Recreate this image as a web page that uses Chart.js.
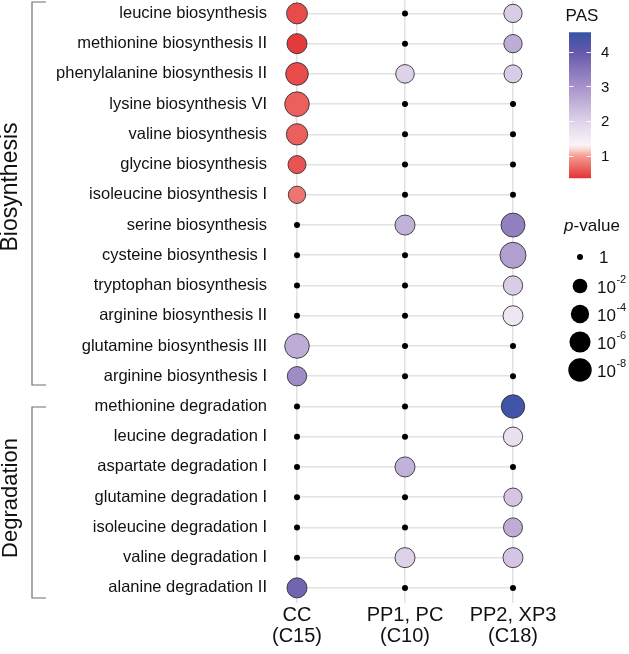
<!DOCTYPE html>
<html>
<head>
<meta charset="utf-8">
<script src="https://cdn.jsdelivr.net/npm/chart.js@4.4.1/dist/chart.umd.min.js"></script>
<style>
  html, body { margin: 0; padding: 0; background: #ffffff; }
  #wrap { width: 629px; height: 654px; position: relative; }
</style>
</head>
<body>
<div id="wrap"><canvas id="c" width="629" height="654"></canvas></div>
<script>
// ---------- DATA ----------
const pathways = [
  'leucine biosynthesis', 'methionine biosynthesis II', 'phenylalanine biosynthesis II',
  'lysine biosynthesis VI', 'valine biosynthesis', 'glycine biosynthesis',
  'isoleucine biosynthesis I', 'serine biosynthesis', 'cysteine biosynthesis I',
  'tryptophan biosynthesis', 'arginine biosynthesis II', 'glutamine biosynthesis III',
  'arginine biosynthesis I', 'methionine degradation', 'leucine degradation I',
  'aspartate degradation I', 'glutamine degradation I', 'isoleucine degradation I',
  'valine degradation I', 'alanine degradation II'
];
const clusterLabels = [['CC', '(C15)'], ['PP1, PC', '(C10)'], ['PP2, XP3', '(C18)']];

// PAS per pathway (null = not significant, drawn as black dot)
const pasCC  = [0.5, 0.4, 0.5, 0.62, 0.62, 0.55, 0.75, null, null, null, null, 2.6, 3.1, null, null, null, null, null, null, 3.8];
const pasPP1 = [null, null, 2.0, null, null, null, null, 2.5, null, null, null, null, null, null, null, 2.5, null, null, 2.0, null];
const pasPP2 = [2.1, 2.6, 2.1, null, null, null, null, 3.3, 2.8, 2.1, 1.6, null, null, 4.4, 1.7, null, 2.2, 2.6, 2.2, null];

// -log10(p-value) per pathway
const logpCC  = [5.9, 5.2, 7.3, 9.1, 6.2, 3.8, 3.4, 0, 0, 0, 0, 9.1, 4.7, 0, 0, 0, 0, 0, 0, 5.2];
const logpPP1 = [0, 0, 4.2, 0, 0, 0, 0, 5.2, 0, 0, 0, 0, 0, 0, 0, 5.2, 0, 0, 5.2, 0];
const logpPP2 = [4.0, 4.0, 3.8, 0, 0, 0, 0, 8.5, 10.5, 4.7, 5.2, 0, 0, 8.0, 4.7, 0, 4.0, 4.5, 5.2, 0];

const pasTicks = [1, 2, 3, 4];
const pLegendExps = [0, 2, 4, 6, 8];
const groups = [
  { name: 'Biosynthesis', first: 0, last: 12 },
  { name: 'Degradation', first: 13, last: 19 }
];

// ---------- MAPPINGS ----------
const FONT = "'Liberation Sans', Arial, Helvetica, sans-serif";
const pasRange = [0.35, 4.56];
const colorStops = [
  [0.35, [228, 50, 52]],
  [1.0,  [244, 158, 148]],
  [1.18, [250, 214, 210]],
  [1.3,  [250, 246, 250]],
  [2.0,  [222, 210, 233]],
  [3.0,  [166, 146, 201]],
  [4.0,  [100, 88, 170]],
  [4.56, [52, 82, 166]]
];
function pasColor(v) {
  if (v <= colorStops[0][0]) return 'rgb(' + colorStops[0][1].join(',') + ')';
  for (let i = 1; i < colorStops.length; i++) {
    if (v <= colorStops[i][0]) {
      const [a, ca] = colorStops[i - 1], [b, cb] = colorStops[i];
      const t = (v - a) / (b - a);
      const c = ca.map((x, k) => Math.round(x + (cb[k] - x) * t));
      return 'rgb(' + c.join(',') + ')';
    }
  }
  return 'rgb(' + colorStops[colorStops.length - 1][1].join(',') + ')';
}
function radius(logp) { return 3 + 3.08 * Math.sqrt(logp); }

const pasCols = [pasCC, pasPP1, pasPP2];
const logpCols = [logpCC, logpPP1, logpPP2];

const datasets = clusterLabels.map((lab, ci) => ({
  label: lab.join(' '),
  data: pathways.map((_, ri) => ({ x: ci, y: ri, r: radius(logpCols[ci][ri]) })),
  backgroundColor: pathways.map((_, ri) => pasCols[ci][ri] == null ? '#000000' : pasColor(pasCols[ci][ri])),
  borderColor: pathways.map((_, ri) => pasCols[ci][ri] == null ? '#000000' : '#333333'),
  borderWidth: pathways.map((_, ri) => pasCols[ci][ri] == null ? 0 : 0.9),
  clip: false
}));

// ---------- DECORATION PLUGIN ----------
const decor = {
  id: 'decor',
  afterDraw(chart) {
    const ctx = chart.ctx;
    ctx.save();
    // group brackets
    ctx.strokeStyle = '#6e6e6e';
    ctx.lineWidth = 1.2;
    const bx = 32, bx2 = 46;
    const spans = [[2, 385], [407, 598]];
    spans.forEach(([t, b]) => {
      ctx.beginPath();
      ctx.moveTo(bx2, t); ctx.lineTo(bx, t); ctx.lineTo(bx, b); ctx.lineTo(bx2, b);
      ctx.stroke();
    });
    // group labels
    ctx.fillStyle = '#111';
    ctx.textAlign = 'center';
    ctx.textBaseline = 'alphabetic';
    const gl = [[groups[0].name, 187, 23], [groups[1].name, 498, 22]];
    gl.forEach(([name, cy, fs]) => {
      ctx.save();
      ctx.translate(17, cy);
      ctx.rotate(-Math.PI / 2);
      ctx.font = fs + 'px ' + FONT;
      ctx.fillText(name, 0, 0);
      ctx.restore();
    });

    // PAS colour bar
    ctx.font = '17px ' + FONT;
    ctx.textAlign = 'center';
    ctx.textBaseline = 'middle';
    ctx.fillStyle = '#111';
    ctx.fillText('PAS', 582, 16);
    const cbx = 569, cbw = 22;
    const vy = v => 155.7 - (v - 1) * 34.67;
    const top = vy(pasRange[1]), bot = vy(pasRange[0]);
    const grad = ctx.createLinearGradient(0, bot, 0, top);
    const n = 60;
    for (let i = 0; i <= n; i++) {
      const v = pasRange[0] + (pasRange[1] - pasRange[0]) * i / n;
      grad.addColorStop(i / n, pasColor(v));
    }
    ctx.fillStyle = grad;
    ctx.fillRect(cbx, top, cbw, bot - top);
    ctx.strokeStyle = 'rgba(255,255,255,0.9)';
    ctx.lineWidth = 1;
    ctx.font = '15px ' + FONT;
    ctx.textAlign = 'left';
    pasTicks.forEach(t => {
      const ty = Math.round(vy(t)) + 0.5;
      ctx.beginPath();
      ctx.moveTo(cbx, ty); ctx.lineTo(cbx + 4.5, ty);
      ctx.moveTo(cbx + cbw - 4.5, ty); ctx.lineTo(cbx + cbw, ty);
      ctx.stroke();
      ctx.fillStyle = '#111';
      ctx.fillText(String(t), 601, vy(t) + 1);
    });

    // p-value size legend
    ctx.font = 'italic 17px ' + FONT;
    const wp = ctx.measureText('p').width;
    ctx.font = '17px ' + FONT;
    const wr = ctx.measureText('-value').width;
    const sx = 592 - (wp + wr) / 2;
    ctx.textAlign = 'left';
    ctx.fillStyle = '#111';
    ctx.font = 'italic 17px ' + FONT;
    ctx.fillText('p', sx, 226);
    ctx.font = '17px ' + FONT;
    ctx.fillText('-value', sx + wp, 226);
    const ly = [257, 286, 314, 342, 370];
    pLegendExps.forEach((e, i) => {
      ctx.beginPath();
      ctx.fillStyle = '#000';
      ctx.arc(580, ly[i], radius(e), 0, Math.PI * 2);
      ctx.fill();
      ctx.fillStyle = '#111';
      ctx.font = '17px ' + FONT;
      if (e === 0) {
        ctx.fillText('1', 599, ly[i] + 1);
      } else {
        ctx.fillText('10', 597, ly[i] + 2);
        const w10 = ctx.measureText('10').width;
        ctx.font = '11px ' + FONT;
        ctx.fillText('-' + e, 597 + w10 + 0.5, ly[i] - 6);
      }
    });
    ctx.restore();
  }
};

// ---------- CHART ----------
new Chart(document.getElementById('c'), {
  type: 'bubble',
  data: { datasets },
  options: {
    responsive: false,
    animation: false,
    events: [],
    layout: { autoPadding: false, padding: { left: 0, right: 116, top: 0, bottom: 0 } },
    plugins: { legend: { display: false }, tooltip: { enabled: false } },
    scales: {
      x: {
        type: 'linear',
        min: 0, max: 2,
        afterBuildTicks: s => { s.ticks = clusterLabels.map((_, i) => ({ value: i })); },
        afterFit: s => { s.height = 51; },
        ticks: {
          autoSkip: false,
          maxRotation: 0,
          padding: 2,
          color: '#111',
          font: { family: FONT, size: 20, lineHeight: 1.05 },
          callback: v => clusterLabels[v] || ''
        },
        grid: { color: '#e2e2e2', lineWidth: 1.6, drawTicks: false },
        border: { display: false }
      },
      y: {
        type: 'linear',
        reverse: true,
        min: -0.43, max: 19.5,
        afterBuildTicks: s => { s.ticks = pathways.map((_, i) => ({ value: i })); },
        afterFit: s => { s.width = 297; },
        ticks: {
          autoSkip: false,
          padding: 0,
          color: '#111',
          font: { family: FONT, size: 16.5, lineHeight: 0.05 },
          callback: v => pathways[v] || ''
        },
        grid: { color: '#e2e2e2', lineWidth: 1.6, drawTicks: true, tickLength: 30, tickColor: 'rgba(0,0,0,0)' },
        border: { display: false }
      }
    }
  },
  plugins: [decor]
});
</script>
</body>
</html>
